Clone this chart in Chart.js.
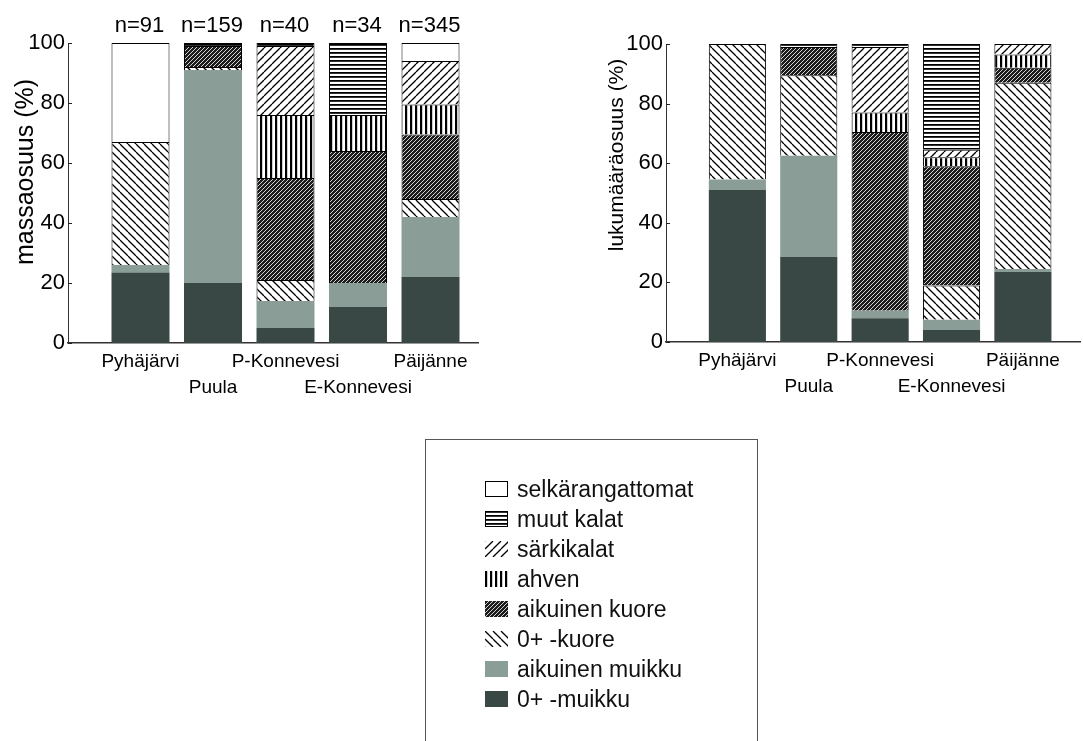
<!DOCTYPE html>
<html>
<head>
<meta charset="utf-8">
<script src="https://cdn.jsdelivr.net/npm/chart.js@4"></script>
<style>
  body { margin: 0; background: #fff; width: 1083px; height: 741px; overflow: hidden; position: relative; font-family: "Liberation Sans", Arial, sans-serif; }
  #c1 { position: absolute; left: 0; top: 0; }
  #c2 { position: absolute; left: 560px; top: 0; }
  #legend { position: absolute; left: 425px; top: 439px; width: 333px; height: 320px; border: 1px solid #555; box-sizing: border-box; padding: 34px 0 0 59px; }
  .item { height: 30px; display: flex; align-items: center; font-size: 23px; color: #111; }
  .item canvas { margin-right: 9px; }
</style>
</head>
<body>
<canvas id="c1" width="500" height="420"></canvas>
<canvas id="c2" width="523" height="420"></canvas>
<div id="legend"></div>
<script>
// lakes and sample sizes (left chart)
const lakes = ['Pyhäjärvi', 'Puula', 'P-Konnevesi', 'E-Konnevesi', 'Päijänne'];
const nLabels = ['n=91', 'n=159', 'n=40', 'n=34', 'n=345'];
const yTicks = [0, 20, 40, 60, 80, 100];

// food groups, bottom of the stack first
const groups = ['0+ -muikku', 'aikuinen muikku', '0+ -kuore', 'aikuinen kuore', 'ahven', 'särkikalat', 'muut kalat', 'selkärangattomat'];

// massaosuus (%) per lake
const massMuikku0 = [23.5, 20, 5, 12, 22];
const massMuikkuAik = [2.5, 71, 9, 8, 20];
const massKuore0 = [41, 1, 7, 0, 6];
const massKuoreAik = [0, 7, 34, 44, 21.5];
const massAhven = [0, 0, 21, 12, 10];
const massSarki = [0, 0, 23, 0, 14.5];
const massMuut = [0, 1, 1, 24, 0];
const massSelka = [33, 0, 0, 0, 6];

// lukumääräosuus (%) per lake
const lkmMuikku0 = [51, 28.5, 8, 4, 23.5];
const lkmMuikkuAik = [3.5, 34, 2.5, 3.5, 1];
const lkmKuore0 = [45.5, 27, 0, 11.5, 62.5];
const lkmKuoreAik = [0, 9.5, 60, 40, 5];
const lkmAhven = [0, 0, 6.5, 3, 4.5];
const lkmSarki = [0, 0, 22, 2.5, 3.5];
const lkmMuut = [0, 1, 1, 35.5, 0];
const lkmSelka = [0, 0, 0, 0, 0];

const FONT = '"Liberation Sans", Arial, sans-serif';

// fill patterns for the groups
function makePattern(kind) {
  const c = document.createElement('canvas');
  let s = 8;
  if (kind === 'dense' || kind === 'horiz') s = 4;
  if (kind === 'vert') s = 5;
  c.width = s; c.height = s;
  const g = c.getContext('2d');
  g.fillStyle = '#fff';
  g.fillRect(0, 0, s, s);
  g.strokeStyle = '#000';
  g.lineWidth = 1.3;
  if (kind === 'up' || kind === 'down') {
    for (const k of [-s, 0, s]) {
      g.beginPath();
      if (kind === 'up') { g.moveTo(k, s); g.lineTo(k + s, 0); }
      else { g.moveTo(k, 0); g.lineTo(k + s, s); }
      g.stroke();
    }
  } else if (kind === 'dense') {
    g.fillStyle = '#1c1c1c';
    g.fillRect(0, 0, s, s);
    g.strokeStyle = '#e8e8e8';
    g.lineWidth = 0.9;
    for (const k of [-s, 0, s]) {
      g.beginPath(); g.moveTo(k, s); g.lineTo(k + s, 0); g.stroke();
    }
  } else if (kind === 'vert') {
    g.fillStyle = '#000';
    g.fillRect(0, 0, 2.2, s);
  } else if (kind === 'horiz') {
    g.fillStyle = '#000';
    g.fillRect(0, 0, s, 1.8);
  }
  return g.createPattern(c, 'repeat');
}

const fills = [
  '#3a4845',              // 0+ -muikku
  '#8a9e97',              // aikuinen muikku
  makePattern('down'),    // 0+ -kuore
  makePattern('dense'),   // aikuinen kuore
  makePattern('vert'),    // ahven
  makePattern('up'),      // särkikalat
  makePattern('horiz'),   // muut kalat
  '#ffffff'               // selkärangattomat
];
const borders = [0, 0, 1, 1, 1, 1, 1, 1];

function buildDatasets(series) {
  return series.map((vals, i) => ({
    label: groups[i],
    data: vals.map((v, j) => ({ x: j + 1, y: v || null })),
    backgroundColor: fills[i],
    borderColor: '#000',
    borderWidth: borders[i],
    barPercentage: 0.8,
    categoryPercentage: 1
  }));
}

// draws n= labels, inside y ticks and the rotated y title
const extras = {
  id: 'extras',
  afterDraw(chart, args, opts) {
    const ctx = chart.ctx;
    const xs = chart.scales.x, ys = chart.scales.y;
    ctx.save();
    ctx.strokeStyle = '#222';
    ctx.lineWidth = 1;
    yTicks.forEach(v => {
      const py = Math.round(ys.getPixelForValue(v)) + 0.5;
      ctx.beginPath(); ctx.moveTo(xs.left, py); ctx.lineTo(xs.left + 4, py); ctx.stroke();
    });
    ctx.fillStyle = '#000';
    if (opts.top) {
      ctx.font = '22px ' + FONT;
      ctx.textAlign = 'center';
      ctx.textBaseline = 'alphabetic';
      opts.top.forEach((t, i) => ctx.fillText(t, xs.getPixelForValue(i + 1) - 1, chart.chartArea.top - 11));
    }
    ctx.translate(opts.titleX, opts.titleY);
    ctx.rotate(-Math.PI / 2);
    ctx.font = opts.titleSize + 'px ' + FONT;
    ctx.textAlign = 'center';
    ctx.textBaseline = 'middle';
    ctx.fillText(opts.title, 0, 0);
    ctx.restore();
  }
};

function makeChart(id, series, cfg) {
  return new Chart(document.getElementById(id), {
    type: 'bar',
    data: { datasets: buildDatasets(series) },
    options: {
      responsive: false,
      animation: false,
      layout: { padding: cfg.padding },
      plugins: {
        legend: { display: false },
        tooltip: { enabled: false },
        extras: { top: cfg.top, title: cfg.title, titleX: cfg.titleX, titleY: cfg.titleY, titleSize: cfg.titleSize }
      },
      scales: {
        x: {
          type: 'linear',
          stacked: true,
          offset: false,
          min: 0,
          max: cfg.xMax,
          grid: { display: false, drawTicks: false },
          border: { display: true, color: '#333', width: 1.5 },
          afterFit(scale) { scale.height = 60; },
          afterBuildTicks(scale) {
            scale.ticks = [0, 1, 2, 3, 4, 5].map(v => ({ value: v }));
          },
          ticks: {
            autoSkip: false,
            maxRotation: 0,
            padding: 6,
            color: '#000',
            font: { family: FONT, size: 19, lineHeight: 1.37 },
            callback(v) {
              if (v < 1 || v > 5) return '';
              const name = lakes[v - 1];
              return v % 2 === 1 ? [name, ''] : ['', name];
            }
          }
        },
        y: {
          stacked: true,
          min: 0,
          max: 100,
          afterFit(scale) { scale.width = cfg.yWidth; },
          afterBuildTicks(scale) {
            scale.ticks = yTicks.map(v => ({ value: v }));
          },
          grid: { display: false, drawTicks: false },
          border: { display: true, color: '#333', width: 1 },
          ticks: { padding: 3, color: '#000', font: { family: FONT, size: 22 } }
        }
      }
    },
    plugins: [extras]
  });
}

const chart1 = makeChart('c1',
  [massMuikku0, massMuikkuAik, massKuore0, massKuoreAik, massAhven, massSarki, massMuut, massSelka],
  { padding: { left: 0, right: 22, top: 43, bottom: 17 }, xMax: 5.655, yWidth: 68,
    top: nLabels, title: 'massaosuus (%)', titleX: 26, titleY: 172, titleSize: 25 });

const chart2 = makeChart('c2',
  [lkmMuikku0, lkmMuikkuAik, lkmKuore0, lkmKuoreAik, lkmAhven, lkmSarki, lkmMuut, lkmSelka],
  { padding: { left: 0, right: 3, top: 44, bottom: 18 }, xMax: 5.8, yWidth: 106,
    top: null, title: 'lukumääräosuus (%)', titleX: 57, titleY: 155, titleSize: 21 });

// legend, top group first
const legend = document.getElementById('legend');
chart1.data.datasets.slice().reverse().forEach(ds => {
  const row = document.createElement('div');
  row.className = 'item';
  const sw = document.createElement('canvas');
  sw.width = 23; sw.height = 16;
  const g = sw.getContext('2d');
  g.fillStyle = ds.backgroundColor;
  g.fillRect(0, 0, 23, 16);
  if (ds.label === 'selkärangattomat' || ds.label === 'muut kalat') {
    g.strokeStyle = '#000';
    g.lineWidth = 1;
    g.strokeRect(0.5, 0.5, 22, 15);
  }
  row.appendChild(sw);
  row.appendChild(document.createTextNode(ds.label));
  legend.appendChild(row);
});
</script>
</body>
</html>
